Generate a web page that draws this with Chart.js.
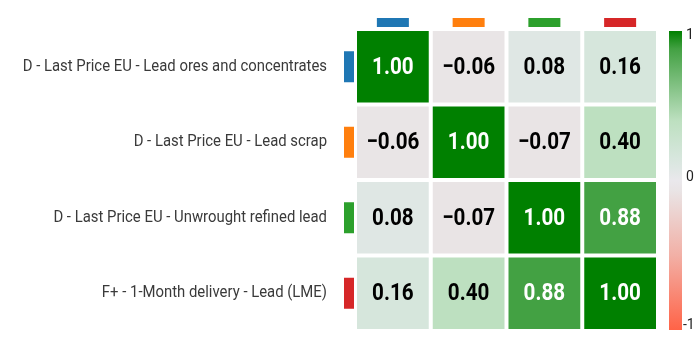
<!DOCTYPE html>
<html>
<head>
<meta charset="utf-8">
<script src="https://cdn.jsdelivr.net/npm/chart.js@4/dist/chart.umd.min.js"></script>
<style>
  html, body { margin: 0; padding: 0; background: #fff; }
  #wrap { width: 699px; height: 344px; }
</style>
</head>
<body>
<div id="wrap"><canvas id="heat" width="699" height="344"></canvas></div>
<script>
// series shown on both axes
const rowLabels = [
  'D - Last Price EU - Lead ores and concentrates',
  'D - Last Price EU - Lead scrap',
  'D - Last Price EU - Unwrought refined lead',
  'F+ - 1-Month delivery - Lead (LME)',
];
const seriesColors = ['#1f77b4', '#ff7f0e', '#2ca02c', '#d62728'];

// correlation matrix, row by row
const corrRow0 = [1.00, -0.06, 0.08, 0.16];
const corrRow1 = [-0.06, 1.00, -0.07, 0.40];
const corrRow2 = [0.08, -0.07, 1.00, 0.88];
const corrRow3 = [0.16, 0.40, 0.88, 1.00];
const corr = [corrRow0, corrRow1, corrRow2, corrRow3];

const colorTicks = [-1, 0, 1];

// diverging scale: red -> light grey -> green
const colorStops = [
  [-1.00, [255, 99, 71]],
  [-0.50, [242, 176, 166]],
  [-0.07, [233, 228, 229]],
  [0.00, [234, 232, 236]],
  [0.08, [223, 231, 228]],
  [0.16, [214, 230, 220]],
  [0.40, [189, 224, 192]],
  [0.88, [67, 161, 67]],
  [1.00, [0, 128, 0]],
];

function colorFor(v) {
  for (let i = 0; i < colorStops.length - 1; i++) {
    const [v0, c0] = colorStops[i];
    const [v1, c1] = colorStops[i + 1];
    if (v >= v0 && v <= v1) {
      const f = (v - v0) / (v1 - v0);
      const c = c0.map((ch, k) => Math.round(ch + f * (c1[k] - ch)));
      return `rgb(${c[0]},${c[1]},${c[2]})`;
    }
  }
  return v < 0 ? 'rgb(255,99,71)' : 'rgb(0,128,0)';
}

function fmt(v) {
  return v.toFixed(2).replace('-', '\u2212');
}

function drawScaled(ctx, text, x, y, sx) {
  ctx.save();
  ctx.translate(x, y);
  ctx.scale(sx, 1);
  ctx.fillText(text, 0, 0);
  ctx.restore();
}

const decor = {
  id: 'heatDecor',
  afterDatasetsDraw(chart) {
    const { ctx, scales: { x, y, cb } } = chart;

    // values inside the cells
    ctx.save();
    ctx.font = 'bold 24px Roboto';
    ctx.textAlign = 'center';
    ctx.textBaseline = 'middle';
    chart.data.datasets.forEach((ds, r) => {
      chart.getDatasetMeta(r).data.forEach((bar, c) => {
        const v = corr[r][c];
        const p = bar.getCenterPoint();
        ctx.fillStyle = Math.abs(v) > 0.6 ? '#ffffff' : '#000000';
        drawScaled(ctx, fmt(v), p.x, p.y + 1, 0.86);
      });
    });
    ctx.restore();

    // row labels and series swatches
    ctx.save();
    ctx.font = '16px Roboto';
    ctx.textAlign = 'right';
    ctx.textBaseline = 'middle';
    rowLabels.forEach((lab, r) => {
      const cy = y.getPixelForValue(r + 0.5);
      ctx.fillStyle = '#3a3a3a';
      drawScaled(ctx, lab, 327, cy, 0.93);
      ctx.fillStyle = seriesColors[r];
      ctx.fillRect(344, cy - 15.5, 10, 31);
    });
    x.ticks.forEach((t, c) => {
      const cx = x.getPixelForValue(c);
      ctx.fillStyle = seriesColors[c];
      ctx.fillRect(cx - 16, 18, 32, 9);
    });
    ctx.restore();

    // colour bar
    const top = cb.getPixelForValue(1) + 2;
    const bottom = cb.getPixelForValue(-1) - 1;
    const grad = ctx.createLinearGradient(0, top, 0, bottom);
    colorStops.forEach(([v, c]) => {
      const f = (cb.getPixelForValue(v) - cb.getPixelForValue(1)) /
                (cb.getPixelForValue(-1) - cb.getPixelForValue(1));
      grad.addColorStop(Math.min(1, Math.max(0, f)), `rgb(${c[0]},${c[1]},${c[2]})`);
    });
    ctx.save();
    ctx.fillStyle = grad;
    ctx.fillRect(669, top, 13, bottom - top);
    ctx.font = '14px Roboto';
    ctx.textAlign = 'left';
    ctx.textBaseline = 'middle';
    ctx.fillStyle = '#222';
    colorTicks.forEach(v => {
      let py = cb.getPixelForValue(v);
      if (v === 1) py = top + 4;
      else if (v === -1) py = bottom - 5;
      else py -= 3;
      ctx.fillText(String(v), v < 0 ? 683 : 686, py);
    });
    ctx.restore();
  }
};

const datasets = corr.map((row, r) => ({
  label: rowLabels[r],
  data: row.map(() => 1),
  backgroundColor: row.map(colorFor),
  borderColor: '#ffffff',
  borderWidth: 2,
  borderSkipped: false,
  inflateAmount: 0,
  barPercentage: 1,
  categoryPercentage: 1,
}));

new Chart(document.getElementById('heat'), {
  type: 'bar',
  data: { labels: rowLabels.map((_, i) => String(i)), datasets },
  options: {
    responsive: false,
    animation: false,
    events: [],
    layout: { padding: { left: 355, right: 41, top: 29, bottom: 13 } },
    plugins: { legend: { display: false }, tooltip: { enabled: false } },
    scales: {
      x: { display: false, stacked: true },
      y: { display: false, stacked: true, min: 0, max: 4, reverse: true },
      cb: { display: false, type: 'linear', position: 'right', min: -1, max: 1 },
    },
  },
  plugins: [decor],
});
</script>
</body>
</html>
